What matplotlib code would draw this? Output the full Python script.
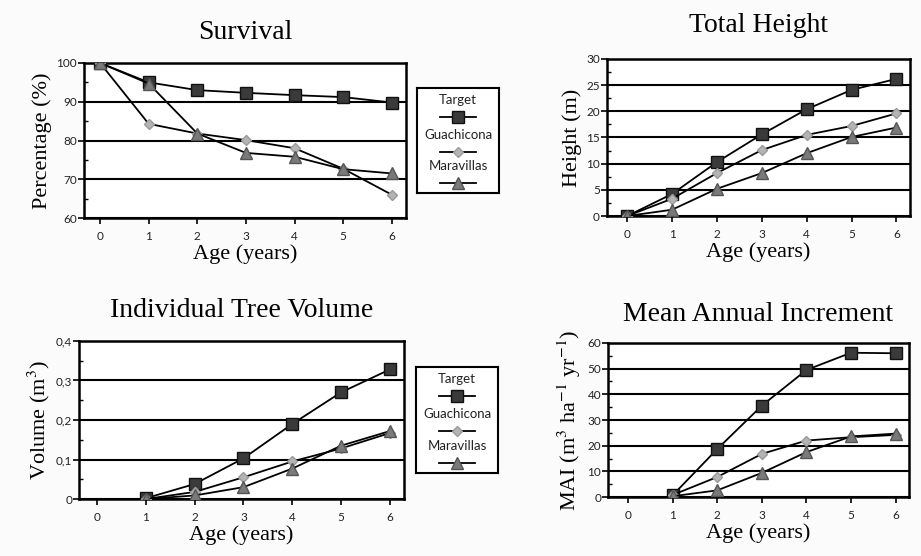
import matplotlib
matplotlib.use("Agg")
import matplotlib.pyplot as plt
from matplotlib.ticker import MultipleLocator, FixedLocator

plt.rcParams['font.family'] = 'Liberation Serif'
plt.rcParams['mathtext.fontset'] = 'stix'

age = [0, 1, 2, 3, 4, 5, 6]
age_vol = [1, 2, 3, 4, 5, 6]
series = ["Target", "Guachicona", "Maravillas"]

surv_target = [100, 95, 93, 92.3, 91.7, 91.2, 89.8]
surv_guach = [100, 84.3, 81.8, 80.1, 78, 72.7, 66]
surv_marav = [100, 94.7, 81.8, 76.8, 75.8, 72.6, 71.5]

height_target = [0, 4.2, 10.3, 15.6, 20.4, 24.1, 26.2]
height_guach = [0, 3.3, 8.2, 12.6, 15.5, 17.2, 19.6]
height_marav = [0, 1.2, 5.2, 8.2, 12.0, 15.1, 16.9]

vol_target = [0.002, 0.038, 0.103, 0.19, 0.27, 0.328]
vol_guach = [0.0, 0.018, 0.055, 0.095, 0.128, 0.167]
vol_marav = [0.0, 0.009, 0.03, 0.077, 0.135, 0.172]

mai_target = [0.7, 18.7, 35.6, 49.5, 56.2, 56.0]
mai_guach = [0.8, 7.8, 16.8, 22.0, 23.3, 24.2]
mai_marav = [0.3, 2.6, 9.4, 17.5, 23.6, 24.7]

styles = {
    "Target": dict(marker='s', ms=9, mfc='#3a3a3a', mec='#111111'),
    "Guachicona": dict(marker='D', ms=5.5, mfc='#b4b4b4', mec='#9a9a9a'),
    "Maravillas": dict(marker='^', ms=8.5, mfc='#7a7a7a', mec='#555555'),
}

fig = plt.figure(figsize=(9.21, 5.56), dpi=100)
fig.patch.set_facecolor('#fbfbfb')

tick_font = dict(family='Lato', size=8.5)


def setup(ax, title, ylabel, ylim, major, minor, xlim, pad=18):
    ax.set_xlim(*xlim)
    ax.set_ylim(*ylim)
    ax.yaxis.set_major_locator(MultipleLocator(major))
    ax.yaxis.set_minor_locator(MultipleLocator(minor))
    ax.xaxis.set_major_locator(FixedLocator(age))
    ax.grid(axis='y', which='major', color='black', lw=1.5)
    ax.set_axisbelow(True)
    for sp in ax.spines.values():
        sp.set_linewidth(1.8)
    ax.tick_params(axis='y', which='major', direction='out', length=4, width=1.2, pad=1)
    ax.tick_params(axis='y', which='minor', direction='in', length=3, width=1.0)
    ax.tick_params(axis='x', which='major', direction='out', length=4, width=1.2, pad=5)
    for lab in ax.get_xticklabels() + ax.get_yticklabels():
        lab.set_fontfamily(tick_font['family'])
        lab.set_fontsize(tick_font['size'])
        lab.set_color('#222222')
    ax.set_title(title, fontsize=20, pad=pad)
    ax.set_xlabel("Age (years)", fontsize=16, labelpad=2)
    ax.set_ylabel(ylabel, fontsize=16, labelpad=3)


def draw(ax, x, values):
    for name, y in zip(series, values):
        ax.plot(x, y, color='black', lw=1.3, zorder=3, **styles[name])


def legend_box(rect):
    lax = fig.add_axes(rect)
    lax.set_xlim(0, 1)
    lax.set_ylim(0, 1)
    lax.set_xticks([])
    lax.set_yticks([])
    for sp in lax.spines.values():
        sp.set_linewidth(1.5)
    rows = [0.885, 0.552, 0.257]
    for name, ty in zip(series, rows):
        lax.text(0.5, ty, name, ha='center', va='center', fontsize=9.5,
                 family='Lato', color='#222222')
        sy = ty - 0.16
        lax.plot([0.28, 0.5, 0.72], [sy, sy, sy], color='black', lw=1.3,
                 markevery=[1], **styles[name])


ax1 = fig.add_axes([0.0912, 0.6079, 0.3496, 0.2788])
draw(ax1, age, [surv_target, surv_guach, surv_marav])
setup(ax1, "Survival", "Percentage (%)", (60, 100), 10, 5, (-0.33, 6.29), pad=17)

ax2 = fig.add_axes([0.659, 0.6115, 0.329, 0.2824])
draw(ax2, age, [height_target, height_guach, height_marav])
setup(ax2, "Total Height", "Height (m)", (0, 30), 5, 2.5, (-0.45, 6.3), pad=19.5)

ax3 = fig.add_axes([0.0858, 0.1025, 0.3529, 0.2842])
draw(ax3, age_vol, [vol_target, vol_guach, vol_marav])
setup(ax3, "Individual Tree Volume", r"Volume (m$^{3}$)", (0, 0.4), 0.1, 0.05, (-0.37, 6.29), pad=17)
ax3.set_yticks([0, 0.1, 0.2, 0.3, 0.4])
ax3.set_yticklabels(["0", "0,1", "0,2", "0,3", "0,4"], family='Lato', size=8.5, color='#222222')

ax4 = fig.add_axes([0.6602, 0.1061, 0.3268, 0.277])
draw(ax4, age_vol, [mai_target, mai_guach, mai_marav])
setup(ax4, "Mean Annual Increment", r"MAI (m$^{3}$ ha$^{-1}$ yr$^{-1}$)", (0, 60), 10, 5, (-0.45, 6.3), pad=15.5)

legend_box([0.4528, 0.6529, 0.089, 0.1888])
legend_box([0.4517, 0.1493, 0.089, 0.1906])

fig.savefig("out.png", dpi=100, facecolor=fig.get_facecolor())
